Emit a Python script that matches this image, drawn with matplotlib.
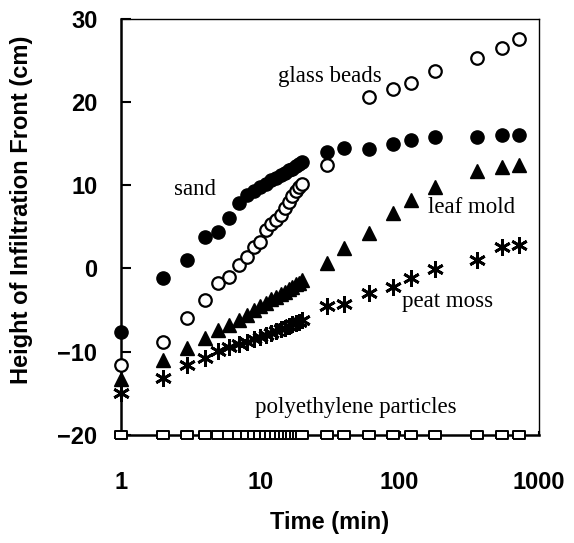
import numpy as np
import matplotlib
matplotlib.use('Agg')
import matplotlib.pyplot as plt
from matplotlib.ticker import FixedLocator, NullLocator, FixedFormatter

# time points (min)
t_early = list(range(1, 21))
t_late = [30, 40, 60, 90, 120, 180, 360, 540, 720]

sand = [-7.6, -1.2, 1.0, 3.8, 4.4, 6.0, 7.8, 8.8, 9.3, 9.8,
        10.2, 10.6, 10.9, 11.2, 11.5, 11.8, 12.0, 12.3, 12.5, 12.8,
        14.0, 14.5, 14.4, 14.9, 15.4, 15.8, 15.8, 16.0, 16.0]

glass_t = t_early + [30, 60, 90, 120, 180, 360, 540, 720]
glass = [-11.6, -8.8, -5.9, -3.8, -1.8, -1.0, 0.4, 1.4, 2.6, 3.2,
         4.6, 5.3, 5.8, 6.4, 7.2, 8.0, 8.7, 9.3, 9.8, 10.2,
         12.4, 20.6, 21.6, 22.3, 23.7, 25.3, 26.5, 27.5]

leaf = [-13.3, -11.0, -9.6, -8.4, -7.4, -6.8, -6.2, -5.6, -5.0, -4.5,
        -4.1, -3.7, -3.4, -3.1, -2.8, -2.5, -2.2, -1.9, -1.7, -1.4,
        0.6, 2.4, 4.2, 6.7, 8.2, 9.8, 11.7, 12.2, 12.4]

peat = [-15.0, -13.2, -11.6, -10.7, -9.9, -9.4, -9.1, -8.8, -8.5, -8.2,
        -8.0, -7.7, -7.5, -7.3, -7.1, -6.9, -6.7, -6.5, -6.4, -6.2,
        -4.5, -4.3, -3.0, -2.2, -1.2, -0.1, 1.0, 2.6, 2.8]

poly = [-20.0] * 29

labels = ['sand', 'glass beads', 'leaf mold', 'peat moss', 'polyethylene particles']
label_pos = [(2.41, 8.8), (13.5, 22.4), (161, 6.6), (104.5, -4.6), (9.2, -17.3)]

xticks = [1, 10, 100, 1000]
yticks = [-20, -10, 0, 10, 20, 30]

t_all = t_early + t_late

fig = plt.figure(figsize=(5.74, 5.43), dpi=100)
ax = fig.add_axes([0.2108, 0.1989, 0.7282, 0.7668])

ax.plot(t_all, poly, linestyle='none', marker=[(-1, -0.65), (1, -0.65), (1, 0.65), (-1, 0.65), (-1, -0.65)],
        ms=8.5, mfc='white', mec='black', mew=1.4, clip_on=False, zorder=3)
ax.plot(t_all, peat, linestyle='none', marker=(6, 2, 0), ms=12, mec='black', mew=2.0,
        clip_on=False, zorder=4)
ax.plot(t_all, leaf, linestyle='none', marker='^', ms=9.5, color='black', clip_on=False, zorder=4)
ax.plot(glass_t, glass, linestyle='none', marker='o', ms=9, mfc='white', mec='black', mew=1.6,
        clip_on=False, zorder=4)
ax.plot(t_all, sand, linestyle='none', marker='o', ms=9.5, color='black', clip_on=False, zorder=5)

for lab, (x, y) in zip(labels, label_pos):
    ax.text(x, y, lab, family='Liberation Serif', fontsize=16.5, ha='left', va='baseline')

ax.set_xscale('log')
ax.set_xlim(1, 1000)
ax.set_ylim(-20, 30)
ax.xaxis.set_major_locator(FixedLocator(xticks))
ax.xaxis.set_major_formatter(FixedFormatter([str(v) for v in xticks]))
ax.xaxis.set_minor_locator(NullLocator())
ax.set_yticks(yticks)

tick_font = dict(family='Liberation Sans', weight='bold', size=17)
for lab in ax.get_xticklabels() + ax.get_yticklabels():
    lab.set_fontproperties(matplotlib.font_manager.FontProperties(**tick_font))

ax.tick_params(axis='y', direction='in', length=7, width=1.5, pad=17)
ax.tick_params(axis='x', direction='in', length=3, width=1.5, pad=26)

for side in ['left', 'bottom']:
    ax.spines[side].set_linewidth(1.8)
for side in ['top', 'right']:
    ax.spines[side].set_linewidth(1.0)

ax.set_xlabel('Time (min)', family='Liberation Sans', weight='bold', fontsize=17, labelpad=12)
ax.set_ylabel('Height of Infiltration Front (cm)', family='Liberation Sans', weight='bold', fontsize=17)
ax.yaxis.set_label_coords(-0.2105, 0.54)

fig.savefig('out.png', dpi=100)
